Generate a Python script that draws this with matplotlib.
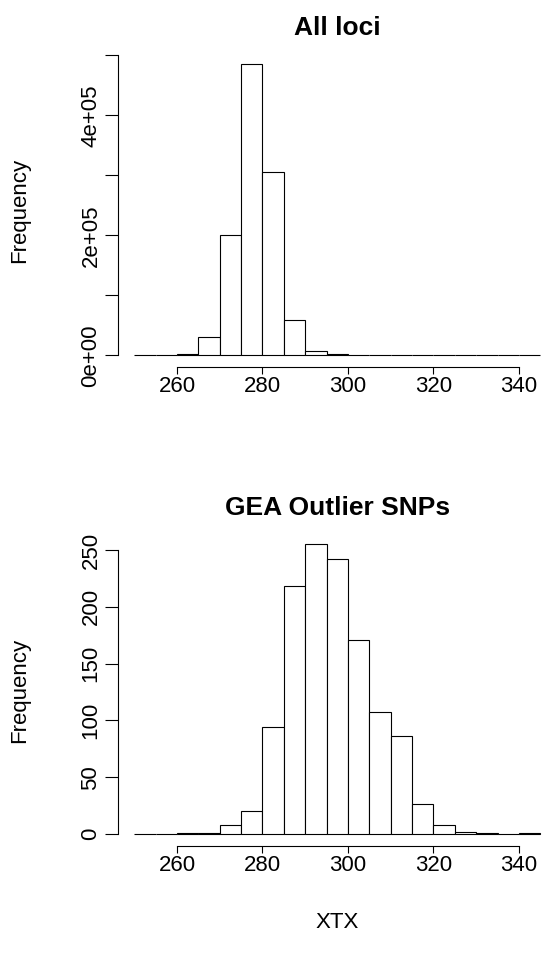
import matplotlib
matplotlib.use("Agg")
import matplotlib.pyplot as plt
import numpy as np

plt.rcParams['font.family'] = ['Liberation Sans', 'DejaVu Sans']

bin_edges = np.arange(250, 350, 5)  # 250..345
all_loci_counts = [200, 800, 3000, 30500, 200000, 486000, 305000, 59500, 7800, 1700,
                   600, 300, 200, 150, 100, 50, 30, 20, 20]
gea_counts = [0, 0, 1, 1, 8, 20, 94, 218, 255, 242, 171, 107, 86, 26, 8, 2, 1, 0, 1]

x_ticks = [260, 280, 300, 320, 340]
top_yticks = [0, 100000, 200000, 300000, 400000, 500000]
top_ylabels = ['0e+00', '', '2e+05', '', '4e+05', '']
bot_yticks = [0, 50, 100, 150, 200, 250]
bot_ylabels = ['0', '50', '100', '150', '200', '250']

W, H = 543, 958
fig = plt.figure(figsize=(W / 100, H / 100), dpi=100)

FS = 16
LW = 0.8

def px_axes(left, top, right, bottom):
    return fig.add_axes([left / W, 1 - bottom / H, (right - left) / W, (bottom - top) / H])

def style(ax, counts, yticks, ylabels, title, title_y):
    edges = bin_edges[:len(counts)]
    ax.bar(edges, counts, width=5, align='edge', facecolor='white',
           edgecolor='black', linewidth=LW)
    lo, hi = 250, 345
    ymax = max(counts)
    ax.set_xlim(lo - 0.04 * (hi - lo), hi + 0.04 * (hi - lo))
    ax.set_ylim(-0.04 * ymax, 1.04 * ymax)
    for s in ['top', 'right']:
        ax.spines[s].set_visible(False)
    ax.spines['left'].set_bounds(yticks[0], yticks[-1])
    ax.spines['bottom'].set_bounds(x_ticks[0], x_ticks[-1])
    ax.spines['left'].set_linewidth(LW)
    ax.spines['bottom'].set_linewidth(LW)
    ax.set_xticks(x_ticks)
    ax.set_xticklabels([str(v) for v in x_ticks], fontsize=FS)
    ax.set_yticks(yticks)
    ax.set_yticklabels(ylabels, fontsize=FS, rotation=90, va='center')
    ax.tick_params(axis='x', length=5, width=LW, direction='out', pad=1.5)
    ax.tick_params(axis='y', length=9.4, width=LW, direction='out', pad=2.5)
    cx = (ax.get_position().x0 + ax.get_position().x1) / 2
    fig.text(cx, 1 - title_y / H, title, fontsize=19, fontweight='bold',
             ha='center', va='center')

ax1 = px_axes(118, 52, 556.6, 367)
style(ax1, all_loci_counts, top_yticks, top_ylabels, 'All loci', 28)

ax2 = px_axes(118, 532.7, 556.6, 845.6)
style(ax2, gea_counts, bot_yticks, bot_ylabels, 'GEA Outlier SNPs', 508)

fig.text(20 / W, 1 - 210 / H, 'Frequency', fontsize=FS, rotation=90, ha='center', va='center')
fig.text(20 / W, 1 - 690 / H, 'Frequency', fontsize=FS, rotation=90, ha='center', va='center')
fig.text(337 / W, 1 - 922 / H, 'XTX', fontsize=FS, ha='center', va='center')

fig.savefig('out.png', dpi=100)
